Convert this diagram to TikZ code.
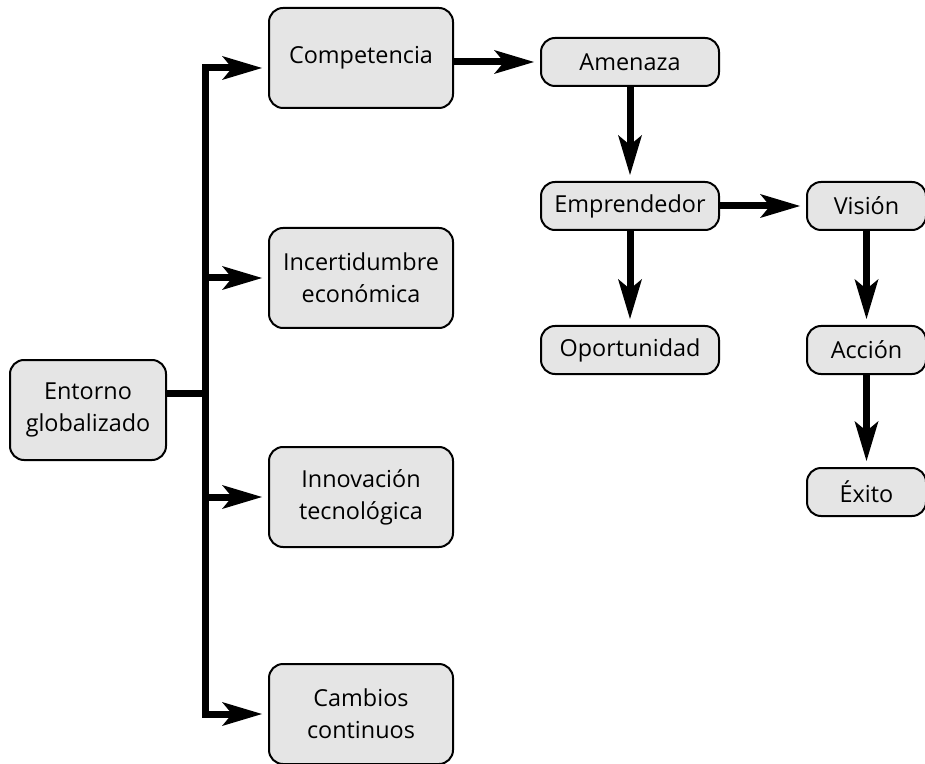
\documentclass[tikz,border=0pt]{standalone}
\usepackage{fontspec}
\setmainfont{Open Sans}
\usetikzlibrary{arrows.meta,positioning}

\begin{document}
\begin{tikzpicture}[
  x=0.5pt, y=-0.5pt,
  font=\fontsize{11.7}{16}\selectfont,
  box/.style={draw=black, line width=1pt, rounded corners=7pt, fill=black!10,
    align=center, inner sep=2pt},
  tall/.style={box, minimum width=92pt, minimum height=50pt},
  mid/.style={box, minimum width=89pt, minimum height=24pt},
  small/.style={box, minimum width=59.5pt, minimum height=24pt},
  link/.style={line width=3.5pt},
  arrow/.style={link, -{Stealth[length=20pt, width=12pt, inset=5pt, line width=0pt]},
    shorten >=3pt}
]
  \useasboundingbox (0,0) rectangle (925,764);

  \node[tall, minimum width=78pt] (entorno) at (88,410) {Entorno\\globalizado};
  \node[tall] (competencia) at (361,58) {Competencia};
  \node[tall] (incertidumbre) at (361,278) {Incertidumbre\\económica};
  \node[tall] (innovacion) at (361,497) {Innovación\\tecnológica};
  \node[tall] (cambios) at (361,714) {Cambios\\continuos};

  \node[mid] (amenaza) at (630,62) {Amenaza};
  \node[mid, below=47pt of amenaza] (emprendedor) {Emprendedor};
  \node[mid, below=47pt of emprendedor] (oportunidad) {Oportunidad};
  \node[small, right=43pt of emprendedor] (vision) {Visión};
  \node[small, below=47pt of vision] (accion) {Acción};
  \node[small, below=46pt of accion] (exito) {Éxito};

  % tronco comun
  \coordinate (trunk) at (205,0);
  \draw[link, line cap=rect] ([yshift=-5pt]competencia.west -| trunk)
    -- (cambios.west -| trunk);
  \draw[link] ([yshift=8.5pt]entorno.east) -- ([yshift=8.5pt]entorno.east -| trunk);
  \draw[arrow] ([yshift=-5pt]competencia.west -| trunk) -- ([yshift=-5pt]competencia.west);
  \draw[arrow] (incertidumbre.west -| trunk) -- (incertidumbre.west);
  \draw[arrow] (innovacion.west -| trunk) -- (innovacion.west);
  \draw[arrow] (cambios.west -| trunk) -- (cambios.west);

  \draw[arrow] (competencia.east |- amenaza) -- (amenaza);
  \draw[arrow] (amenaza) -- (emprendedor);
  \draw[arrow] (emprendedor) -- (oportunidad);
  \draw[arrow] (emprendedor) -- (vision);
  \draw[arrow] (vision) -- (accion);
  \draw[arrow] (accion) -- (exito);
\end{tikzpicture}
\end{document}
